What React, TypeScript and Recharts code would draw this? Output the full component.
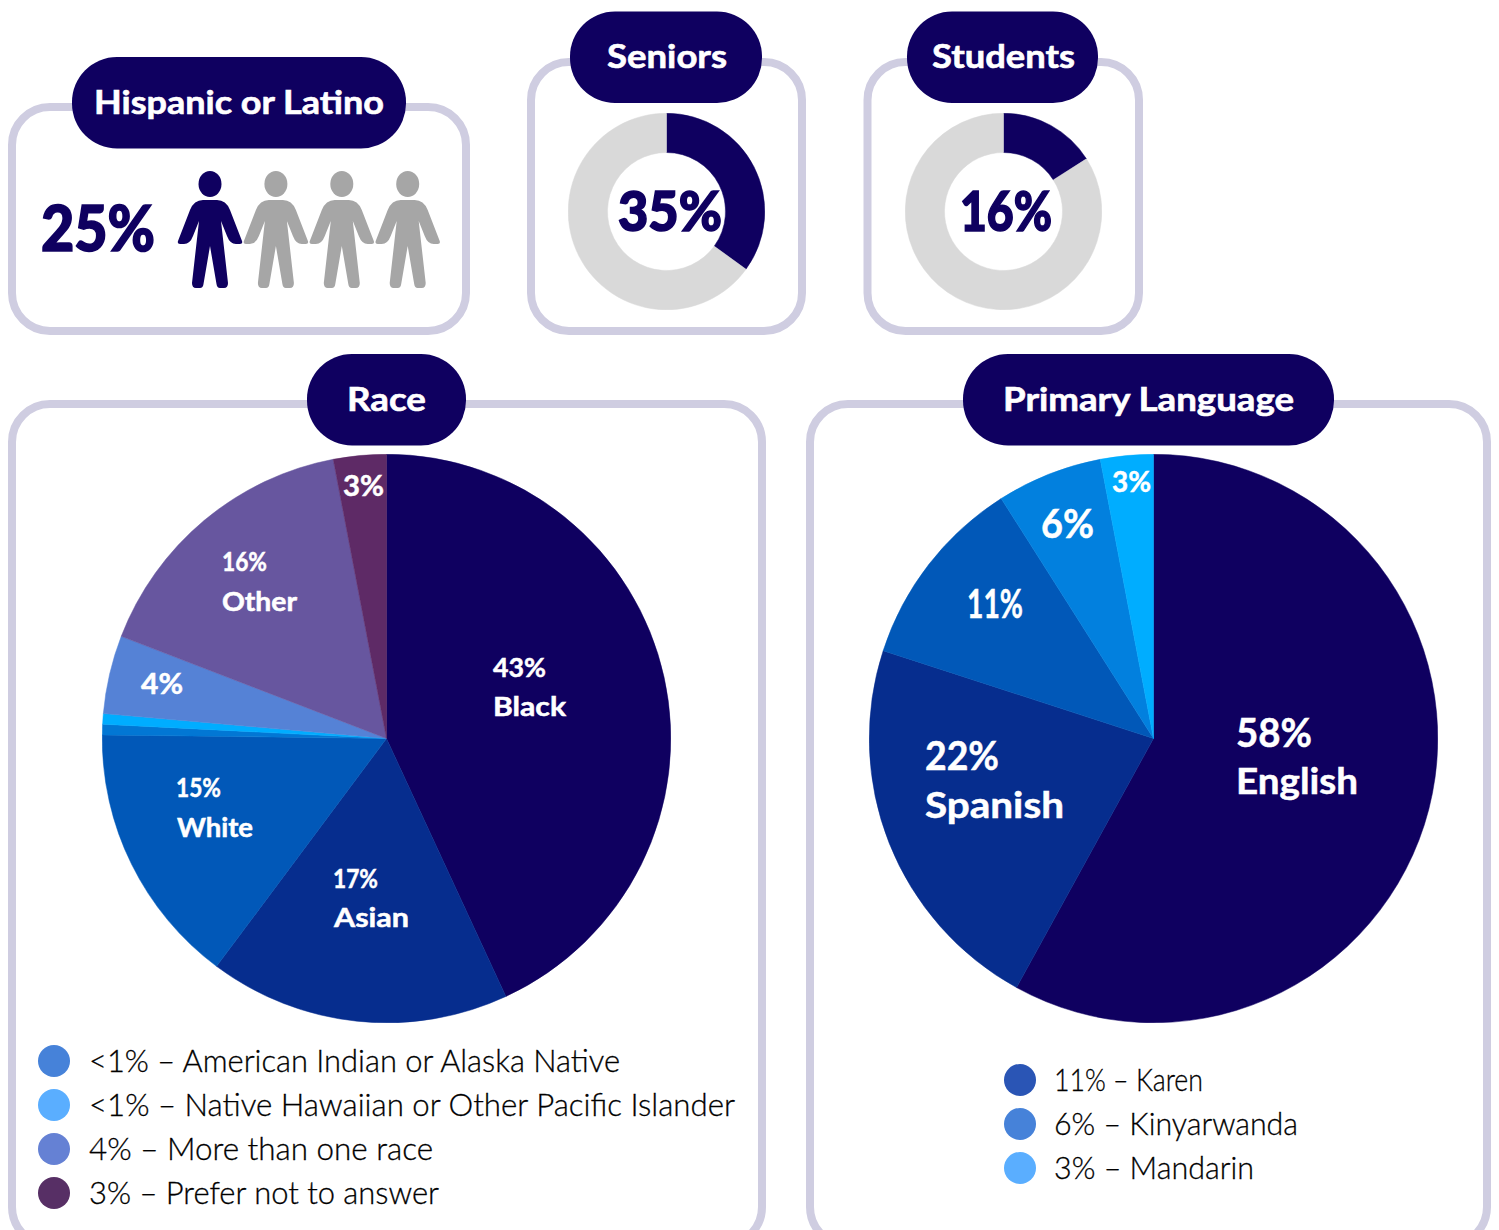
import { Pie, PieChart } from "recharts";

/* ─── Data ─── */

const raceNames = ["Black", "Asian", "White", "American Indian or Alaska Native", "Native Hawaiian or Other Pacific Islander", "More than one race", "Other", "Prefer not to answer"];
const raceValues = [43.1, 17.1, 15, 0.6, 0.6, 4.45, 16.15, 3];
const raceColors = ["#0f0060", "#062d8e", "#0158b8", "#0277d4", "#00adff", "#5582d6", "#67569f", "#5e2a66"];

const languageNames = ["English", "Spanish", "Karen", "Kinyarwanda", "Mandarin"];
const languageValues = [58, 22, 11, 6, 3];
const languageColors = ["#0f0060", "#062d8e", "#0158b8", "#0280de", "#00adff"];

const seniorValues = [35, 65];
const studentValues = [16, 84];
const donutColors = ["#0f0060", "#d9d9d9"];

const hispanicPeople = [true, false, false, false];

const raceLegend = ["<1% – American Indian or Alaska Native", "<1% – Native Hawaiian or Other Pacific Islander", "4% – More than one race", "3% – Prefer not to answer"];
const raceLegendColors = ["#4682d9", "#5aaeff", "#6581d4", "#572f65"];
const languageLegend = ["11% – Karen", "6% – Kinyarwanda", "3% – Mandarin"];
const languageLegendColors = ["#2a55b5", "#4682d9", "#5aaeff"];

/* ─── Layout ─── */

const NAVY = "#0f0060";
const FRAME = "#cfcde1";
const FONT = "Lato, sans-serif";

// x, y, w, h of the rounded boxes
const frames = [
  [12, 107, 454, 224],
  [531, 62, 271, 269],
  [867.5, 62, 271.5, 269],
  [12, 404, 750, 841],
  [810, 404, 677, 841],
];

// title, left, right, top, text x, text width
const pills: [string, number, number, number, number, number][] = [
  ["Hispanic or Latino", 72, 406, 57, 94, 290],
  ["Seniors", 570, 762, 11.5, 607, 120],
  ["Students", 907, 1098, 11.5, 932, 143],
  ["Race", 307, 466, 354, 347, 79],
  ["Primary Language", 963, 1334, 354, 1003, 291],
];

// text, x, baseline, width, size
const whiteLabels: [string, number, number, number, number][] = [
  ["43%", 493, 677, 53, 27],
  ["Black", 493, 716, 73, 27],
  ["3%", 343, 496, 41, 29],
  ["16%", 222, 571, 45, 27],
  ["Other", 222, 611, 75, 27],
  ["4%", 141, 694, 42, 29],
  ["15%", 176, 797, 45, 27],
  ["White", 177, 837, 76, 27],
  ["17%", 333, 888, 45, 27],
  ["Asian", 334, 927, 75, 27],
  ["58%", 1236, 747, 76, 40],
  ["English", 1236, 794, 122, 36],
  ["22%", 925, 770, 74, 40],
  ["Spanish", 925, 818, 139, 36],
  ["11%", 967, 618, 56, 40],
  ["6%", 1041, 538, 53, 40],
  ["3%", 1112, 492, 39, 29],
];

const navyLabels: [string, number, number, number, number][] = [
  ["25%", 41, 250, 114, 62],
  ["35%", 618, 230, 104, 56],
  ["16%", 960, 230, 92, 56],
];

const raceLegendWidths = [531, 646, 344, 350];
const languageLegendWidths = [149, 244, 200];

const PERSON_PATH =
  "M-7 200H7Q16 200 20 210L32 241Q33 244 30 244H26Q20 244 17 236L11 221L18 283Q18 288 14 288H10Q7 288 6.5 284L0 246L-6.5 284Q-7 288-10 288H-14Q-18 288-18 283L-11 221L-17 236Q-20 244-26 244H-30Q-33 244-32 241L-20 210Q-16 200-7 200Z";

/* ─── Pieces ─── */

function toSlices(names: string[], values: number[], colors: string[]) {
  return values.map((value, i) => ({ name: names[i], value, fill: colors[i], stroke: colors[i] }));
}

function Disc({ data, cx, cy, outer, inner = 0 }: { data: { name: string; value: number; fill: string; stroke: string }[]; cx: number; cy: number; outer: number; inner?: number }) {
  return (
    <div style={{ position: "absolute", left: cx - outer, top: cy - outer }}>
      <PieChart width={outer * 2} height={outer * 2} margin={{ top: 0, right: 0, bottom: 0, left: 0 }}>
        <Pie
          data={data}
          dataKey="value"
          nameKey="name"
          cx={outer}
          cy={outer}
          outerRadius={outer - 0.25}
          innerRadius={inner}
          startAngle={90}
          endAngle={-270}
          strokeWidth={0.5}
          isAnimationActive={false}
        />
      </PieChart>
    </div>
  );
}

function Legend({ items, colors, widths, dotX, textX, firstBaseline }: { items: string[]; colors: string[]; widths: number[]; dotX: number; textX: number; firstBaseline: number }) {
  return (
    <>
      {items.map((item, i) => (
        <g key={item}>
          <circle cx={dotX} cy={firstBaseline - 10 + i * 44} r={16} fill={colors[i]} />
          <text
            x={textX}
            y={firstBaseline + i * 44 + 1}
            fontSize={31}
            fontWeight={300}
            fill="#000"
            stroke="#000"
            strokeWidth={0.3}
            textLength={widths[i]}
            lengthAdjust="spacingAndGlyphs"
          >
            {item}
          </text>
        </g>
      ))}
    </>
  );
}

export default function App() {
  return (
    <div style={{ position: "absolute", left: 0, top: 0, width: 1499, height: 1230, overflow: "hidden", background: "#fff", fontFamily: FONT }}>
      <svg width={1499} height={1230} style={{ position: "absolute", left: 0, top: 0 }}>
        {frames.map(([x, y, w, h]) => (
          <rect key={x + "-" + y} x={x} y={y} width={w} height={h} rx={38} fill="none" stroke={FRAME} strokeWidth={8} />
        ))}
        {pills.map(([title, left, right, top]) => (
          <rect key={title} x={left} y={top} width={right - left} height={91.5} rx={45} fill={NAVY} />
        ))}
      </svg>

      <Disc data={toSlices(raceNames, raceValues, raceColors)} cx={386.5} cy={738.5} outer={284.5} />
      <Disc data={toSlices(languageNames, languageValues, languageColors)} cx={1153.5} cy={738.5} outer={284.5} />
      <Disc data={toSlices(["Seniors", "Other"], seniorValues, donutColors)} cx={666.5} cy={211.5} outer={98.5} inner={59} />
      <Disc data={toSlices(["Students", "Other"], studentValues, donutColors)} cx={1003.5} cy={211.5} outer={98.5} inner={59} />

      <svg width={1499} height={1230} style={{ position: "absolute", left: 0, top: 0, fontFamily: FONT }}>
        {pills.map(([title, , , top, textX, textW]) => (
          <text key={title} x={textX} y={top + 56.5} fontSize={33} fontWeight={700} fill="#fff" stroke="#fff" strokeWidth={0.6} textLength={textW} lengthAdjust="spacingAndGlyphs">
            {title}
          </text>
        ))}
        {hispanicPeople.map((filled, i) => (
          <g key={i} transform={`translate(${210 + i * 65.9} 0)`} fill={filled ? NAVY : "#a6a6a6"}>
            <ellipse cx={0} cy={184} rx={11.5} ry={13} />
            <path d={PERSON_PATH} />
          </g>
        ))}
        {navyLabels.map(([label, x, y, w, size]) => (
          <text key={label} x={x} y={y + 1} fontSize={size} fontWeight={900} fill={NAVY} stroke={NAVY} strokeWidth={1.6} textLength={w} lengthAdjust="spacingAndGlyphs">
            {label}
          </text>
        ))}
        {whiteLabels.map(([label, x, y, w, size]) => (
          <text key={label + x} x={x} y={y} fontSize={size} fontWeight={700} fill="#fff" stroke="#fff" strokeWidth={0.5} textLength={w} lengthAdjust="spacingAndGlyphs">
            {label}
          </text>
        ))}
        <Legend items={raceLegend} colors={raceLegendColors} widths={raceLegendWidths} dotX={54} textX={89} firstBaseline={1071} />
        <Legend items={languageLegend} colors={languageLegendColors} widths={languageLegendWidths} dotX={1020} textX={1054} firstBaseline={1090} />
      </svg>
    </div>
  );
}
